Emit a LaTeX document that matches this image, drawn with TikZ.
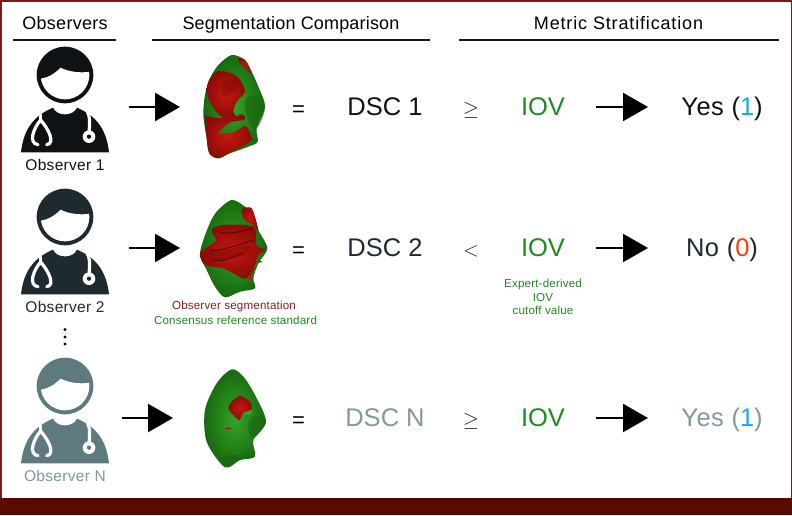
\documentclass[tikz,border=0pt]{standalone}
\usepackage{fontspec}
\usepackage{xcolor}
\usepackage{tikz}
\usetikzlibrary{arrows.meta}
\setmainfont{Liberation Sans}

\definecolor{bandred}{HTML}{5A0A00}
\definecolor{framered}{HTML}{7E1A14}
\definecolor{segred}{HTML}{C8160F}
\definecolor{segdark}{HTML}{8A0C09}
\definecolor{refgreen}{HTML}{34A326}
\definecolor{refdark}{HTML}{17680F}
\definecolor{iovgreen}{HTML}{1F8A1F}
\definecolor{capred}{HTML}{8E1C1C}
\definecolor{oneblue}{HTML}{1AA7EE}
\definecolor{zerored}{HTML}{FF3D0A}
\definecolor{obsA}{HTML}{0F1214}
\definecolor{obsB}{HTML}{1F2A30}
\definecolor{obsC}{HTML}{5F7A7E}
\definecolor{txtC}{HTML}{82999D}

\tikzset{
	bigarrow/.style={line width=2.4pt,-{Triangle[length=25pt,width=28pt]}},
	headtext/.style={font=\fontsize{18}{20}\selectfont,text=black,inner sep=0pt,anchor=base},
	headrule/.style={line width=1.3pt,black!90},
	rowtext/.style={font=\fontsize{25.5}{28}\selectfont,inner sep=0pt,anchor=base},
	reltext/.style={font=\fontsize{20}{24}\selectfont,inner sep=0pt,anchor=base},
	obstext/.style={font=\fontsize{15.5}{17}\selectfont\addfontfeature{LetterSpace=2},inner sep=0pt,anchor=base},
	smalltext/.style={font=\fontsize{11.6}{13.5}\selectfont\addfontfeature{LetterSpace=1.5},inner sep=0pt,align=center},
	zoomscale/.style={x=0.33333pt,y=-0.33333pt},
	segG/.style={inner color=refgreen,outer color=refdark},
	segR/.style={inner color=segred,outer color=segdark},
	crease/.style={segdark!60!black,line width=0.9pt,line cap=round},
}

\begin{document}
\begin{tikzpicture}[x=1pt,y=-1pt]

\useasboundingbox (0,0) rectangle (792,515);

% frame and bottom band
\fill[framered] (0,0) rectangle (792,515);
\fill[white] (1.5,1.5) rectangle (790.5,498);
\fill[bandred] (0,498) rectangle (792,515);

% column heads
\node[headtext] (headA) at (65,29.5) {\addfontfeature{LetterSpace=1.7}Observers};
\node[headtext] (headB) at (291,29.5) {\addfontfeature{LetterSpace=1}Segmentation Comparison};
\node[headtext] (headC) at (618.5,29.5) {\addfontfeature{LetterSpace=4.7}Metric Stratification};
\draw[headrule] (13,40)--(116,40);
\draw[headrule] (152,40)--(430,40);
\draw[headrule] (459,40)--(779,40);

% observers, drawn in 3x units of the crop
\foreach \n/\yy/\col in {1/0/obsA,2/426/obsB,3/933/obsC}{
\begin{scope}[zoomscale,shift={(0,\yy)}]
	\fill[\col] (195,225) circle (85);
	\begin{scope}
		\clip (195,225) circle (73);
		\fill[white] (100,236)--(122,236) .. controls (150,232) and (170,215) .. (182,203) .. controls (205,215) and (240,220) .. (270,215)--(290,215)--(290,320)--(100,320)--cycle;
	\end{scope}
	\fill[\col] (63,457)--(327,457) .. controls (320,395) and (295,350) .. (231,323) .. controls (220,350) and (170,350) .. (159,323) .. controls (95,350) and (70,395) .. (63,457)--cycle;
	\draw[white,line width=3.2pt,line cap=round] (122,345)--(122,365);
	\draw[white,line width=3.2pt,line cap=round] (114,434) .. controls (84,430) and (100,385) .. (122,360) .. controls (144,385) and (168,430) .. (140,434);
	\draw[white,line width=3.2pt,line cap=round] (262,336) .. controls (272,350) and (268,380) .. (267,400);
	\fill[white] (267,410) circle (19);
	\fill[\col] (267,410) circle (6.5);
\end{scope}
}

\node[obstext,text=obsA] (obsA) at (65,170.5) {Observer 1};
\node[obstext,text=obsB] (obsB) at (65,312.5) {Observer 2};
\node[obstext,text=txtC] (obsC) at (65,481.5) {Observer N};

% vertical dots
\foreach \y in {329.5,337,344}{
	\fill[black] (65,\y) circle (1.7);
}

% segmentation 1
\begin{scope}[zoomscale,shift={(570,135)}]
	\shade[segG] plot[smooth cycle,tension=0.5] coordinates {(125,30) (165,45) (185,80) (205,125) (225,185) (200,250) (203,290) (175,305) (120,325) (85,340) (58,325) (50,280) (40,210) (45,150) (60,100) (85,60)};
	\fill[refdark,opacity=0.6] plot[smooth cycle,tension=0.7] coordinates {(165,170) (195,150) (225,185) (200,250) (175,225)};
	\shade[segR] plot[smooth cycle,tension=0.5] coordinates {(60,100) (85,78) (125,85) (150,105) (165,140) (140,170) (130,200) (138,218) (100,218) (75,195) (55,160) (50,130)};
	\shade[segR] plot[smooth cycle,tension=0.5] coordinates {(45,215) (70,218) (100,218) (140,214) (150,208) (163,212) (163,225) (140,228) (115,235) (85,265) (130,262) (165,243) (178,260) (185,285) (165,300) (120,322) (85,340) (58,325) (50,280)};
	\shade[segR] plot[smooth cycle,tension=0.5] coordinates {(145,40) (165,45) (185,85) (165,70) (150,55)};
	\fill[segdark,opacity=0.6] plot[smooth cycle,tension=0.7] coordinates {(100,110) (145,105) (135,135) (105,155) (95,130)};
\end{scope}

% segmentation 2
\begin{scope}[zoomscale,shift={(570,570)}]
	\shade[segG] plot[smooth cycle,tension=0.5] coordinates {(125,30) (165,50) (190,75) (205,120) (232,175) (205,220) (190,265) (195,295) (150,305) (105,322) (75,290) (50,240) (30,190) (55,110) (80,65)};
	\shade[segR] plot[smooth cycle,tension=0.5] coordinates {(65,120) (100,105) (190,110) (200,165) (225,180) (205,195) (185,250) (160,265) (100,235) (45,225) (30,190) (60,165) (78,150)};
	\shade[segR] plot[smooth cycle,tension=0.5] coordinates {(155,60) (185,55) (205,120) (190,105) (165,90)};
	\fill[segred] (205,210)--(218,215)--(205,219)--cycle;
	\fill[segred] (170,265)--(180,254)--(191,268)--cycle;
	\fill[segdark,opacity=0.6] plot[smooth cycle,tension=0.7] coordinates {(40,190) (100,180) (180,168) (150,200) (70,212)};
	\draw[crease] (90,128) .. controls (120,132) and (160,125) .. (190,113);
	\draw[crease] (62,182) .. controls (100,180) and (150,165) .. (190,150);
	\draw[crease] (70,212) .. controls (100,215) and (130,200) .. (155,190);
\end{scope}

% segmentation 3
\begin{scope}[zoomscale,shift={(570,1080)}]
	\shade[segG] plot[smooth cycle,tension=0.5] coordinates {(125,28) (160,50) (195,105) (228,185) (190,240) (195,290) (150,300) (105,322) (50,245) (45,150) (80,70)};
	\fill[refdark,opacity=0.6] plot[smooth cycle,tension=0.7] coordinates {(195,170) (228,185) (190,235) (175,195)};
	\fill[refdark,opacity=0.6] plot[smooth cycle,tension=0.7] coordinates {(100,290) (150,285) (193,288) (150,300) (105,318)};
	\fill[refgreen] plot[smooth cycle,tension=0.7] coordinates {(158,160) (185,145) (180,165)};
	\shade[segR] plot[smooth cycle,tension=0.5] coordinates {(150,108) (180,125) (185,148) (160,158) (148,180) (130,165) (115,145) (125,125)};
	\fill[segdark] (108,203) rectangle (122,208);
\end{scope}

% rows
\foreach \n/\y/\rel/\dsc/\dcol/\ans/\acol/\num/\ncol/\ax in {%
	A/107/{$\geq$}/DSC 1/obsA/Yes/obsA/1/oneblue/129,
	B/248/{$<$}/DSC 2/obsB/No/obsB/0/zerored/129,
	C/418/{$\geq$}/DSC N/txtC/Yes/txtC/1/oneblue/122}{
	\coordinate (in\n) at (\ax,\y);
	\coordinate (out\n) at (\ax+51,\y);
	\draw[bigarrow,black] (in\n)--(out\n);
	\node[reltext,text=black,font=\fontsize{22}{24}\selectfont] (eq\n) at (298.5,\y+9) {=};
	\node[rowtext,text=\dcol] (dsc\n) at (385,\y+8) {\dsc};
	\node[reltext,text=black!85] (rel\n) at (471,\y+8.5) {\rel};
	\node[rowtext,text=iovgreen] (iov\n) at (543,\y+8) {IOV};
	\coordinate (ya\n) at (596,\y);
	\coordinate (yb\n) at (648,\y);
	\draw[bigarrow,black] (ya\n)--(yb\n);
	\node[rowtext,text=\acol] (ans\n) at (722,\y+8) {\addfontfeature{LetterSpace=2}\ans\ {\color{\acol}(}{\color{\ncol}\num}{\color{\acol})}};
}

% captions
\node[smalltext,text=capred] (capA) at (234,306.5) {Observer segmentation};
\node[smalltext,text=iovgreen] (capB) at (235.5,320) {Consensus reference standard};
\node[smalltext,text=iovgreen] (capC) at (543,297) {Expert-derived\\IOV\\cutoff value};

\end{tikzpicture}
\end{document}
